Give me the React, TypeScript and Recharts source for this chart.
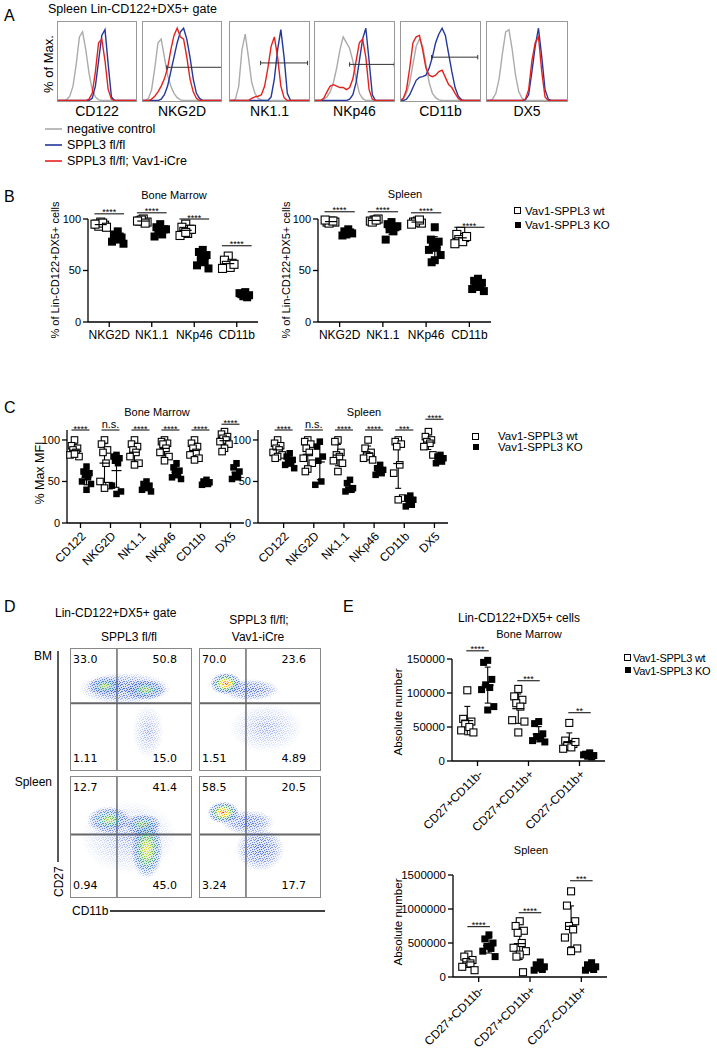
import React from 'react';
import { LineChart, Line, XAxis, YAxis, ScatterChart, Scatter, ErrorBar, ReferenceLine, ReferenceDot } from 'recharts';

const FONT = '"Liberation Sans", Arial, Helvetica, sans-serif';
const FLOW_FONT = '"DejaVu Sans", Verdana, sans-serif';
const BLUE = '#23389a';
const RED = '#e5211d';
const GRAY = '#ababab';

// ---------------- Panel A : histograms ----------------
const HIST_X = [0, 4, 8, 12, 16, 20, 24, 28, 32, 36, 40, 44, 48, 52, 56, 60, 64, 68, 72, 76, 80, 84, 88, 92, 96, 100];
const HIST_MARKERS = ['CD122', 'NKG2D', 'NK1.1', 'NKp46', 'CD11b', 'DX5'];

const CD122_GRAY = [0, 0, 0, 1, 6, 20, 50, 88, 95, 70, 38, 15, 5, 1, 0, 0, 0, 0, 0, 0, 0, 0, 0, 0, 0, 0];
const CD122_BLUE = [0, 0, 0, 0, 0, 0, 0, 0, 0, 0, 0, 3, 20, 55, 90, 98, 50, 5, 0, 0, 0, 0, 0, 0, 0, 0];
const CD122_RED = [0, 0, 0, 0, 0, 0, 0, 0, 0, 0, 2, 10, 40, 80, 85, 55, 15, 2, 0, 0, 0, 0, 0, 0, 0, 0];

const NKG2D_GRAY = [0, 0, 3, 15, 45, 80, 85, 60, 35, 20, 10, 4, 1, 0, 0, 0, 0, 0, 0, 0, 0, 0, 0, 0, 0, 0];
const NKG2D_BLUE = [0, 0, 0, 0, 0, 0, 2, 8, 20, 40, 60, 80, 95, 100, 85, 60, 30, 10, 3, 0, 0, 0, 0, 0, 0, 0];
const NKG2D_RED = [0, 0, 0, 2, 6, 12, 20, 30, 45, 70, 90, 100, 88, 85, 60, 30, 12, 3, 0, 0, 0, 0, 0, 0, 0, 0];

const NK11_GRAY = [0, 0, 2, 20, 70, 92, 60, 25, 10, 3, 1, 0, 0, 0, 0, 0, 0, 0, 0, 0, 0, 0, 0, 0, 0, 0];
const NK11_BLUE = [0, 0, 0, 0, 0, 0, 0, 0, 0, 0, 0, 0, 0, 5, 30, 70, 98, 60, 10, 0, 0, 0, 0, 0, 0, 0];
const NK11_RED = [0, 0, 0, 0, 0, 0, 0, 3, 5, 6, 8, 20, 45, 75, 88, 60, 20, 4, 0, 0, 0, 0, 0, 0, 0, 0];

const NKP46_GRAY = [0, 0, 0, 2, 5, 12, 25, 45, 70, 88, 80, 72, 55, 30, 10, 3, 0, 0, 0, 0, 0, 0, 0, 0, 0, 0];
const NKP46_BLUE = [0, 0, 0, 0, 0, 0, 0, 0, 0, 0, 0, 2, 8, 25, 55, 85, 100, 55, 8, 0, 0, 0, 0, 0, 0, 0];
const NKP46_RED = [0, 0, 0, 3, 12, 20, 22, 20, 18, 18, 15, 18, 30, 55, 80, 85, 60, 15, 2, 0, 0, 0, 0, 0, 0, 0];

const CD11B_GRAY = [0, 2, 10, 25, 50, 75, 85, 75, 50, 25, 10, 4, 1, 0, 0, 0, 0, 0, 0, 0, 0, 0, 0, 0, 0, 0];
const CD11B_BLUE = [0, 0, 2, 8, 18, 28, 32, 33, 35, 45, 60, 80, 92, 100, 90, 65, 40, 18, 6, 1, 0, 0, 0, 0, 0, 0];
const CD11B_RED = [0, 3, 15, 45, 80, 88, 90, 70, 45, 35, 33, 35, 40, 42, 32, 22, 18, 10, 3, 0, 0, 0, 0, 0, 0, 0];

const DX5_GRAY = [0, 0, 2, 10, 30, 65, 95, 98, 70, 35, 12, 3, 0, 0, 0, 0, 0, 0, 0, 0, 0, 0, 0, 0, 0, 0];
const DX5_BLUE = [0, 0, 0, 0, 0, 0, 0, 0, 0, 0, 0, 0, 1, 8, 40, 75, 100, 60, 15, 2, 0, 0, 0, 0, 0, 0];
const DX5_RED = [0, 0, 0, 0, 0, 0, 0, 0, 0, 0, 0, 0, 2, 15, 55, 80, 88, 40, 5, 0, 0, 0, 0, 0, 0, 0];

const HIST_GRAYS = [CD122_GRAY, NKG2D_GRAY, NK11_GRAY, NKP46_GRAY, CD11B_GRAY, DX5_GRAY];
const HIST_BLUES = [CD122_BLUE, NKG2D_BLUE, NK11_BLUE, NKP46_BLUE, CD11B_BLUE, DX5_BLUE];
const HIST_REDS = [CD122_RED, NKG2D_RED, NK11_RED, NKP46_RED, CD11B_RED, DX5_RED];
// gate: [from, to, level]
const HIST_GATES: (number[] | null)[] = [null, [31, 100, 46], [39, 97, 52], [44, 99, 50], [39, 96, 60], null];

const HIST_LEFT = [57, 142, 229, 314, 400, 486];
const HIST_W = [80, 80, 81, 81, 81, 82];
const HIST_TOP = 21;
const HIST_H = 81;

// ---------------- Panel B ----------------
const B_CATS = ['NKG2D', 'NK1.1', 'NKp46', 'CD11b'];
const B_BM_WT = [[97, 95, 94, 93, 96, 95, 92], [100, 98, 97, 99, 96, 98], [95, 92, 90, 88, 86, 84, 90, 87], [64, 60, 57, 55, 53, 52, 56]];
const B_BM_KO = [[88, 85, 82, 80, 83, 78, 76, 81], [95, 92, 90, 88, 85, 83, 90], [70, 68, 65, 62, 58, 55, 52, 60], [29, 27, 26, 25, 24, 28]];
const B_BM_SIG = [105, 106, 100, 74];
const B_SP_WT = [[98, 97, 97, 96, 98, 99], [99, 98, 100, 97, 99], [98, 97, 96, 97, 99, 95], [88, 85, 82, 80, 78, 76, 83]];
const B_SP_KO = [[90, 88, 86, 85, 87, 84], [97, 95, 92, 90, 88, 80, 93], [92, 80, 78, 75, 72, 70, 65, 60, 58], [42, 40, 38, 36, 34, 32, 30, 35]];
const B_SP_SIG = [107, 107, 106, 92];
const B_SIG_TXT = ['****', '****', '****', '****'];
const B_TICKS = [0, 50, 100];

// ---------------- Panel C ----------------
const C_CATS = ['CD122', 'NKG2D', 'NK1.1', 'NKp46', 'CD11b', 'DX5'];
const C_BM_WT = [[100, 93, 90, 88, 85, 82, 80, 83], [100, 95, 88, 85, 72, 50, 45, 42], [100, 95, 92, 88, 85, 80, 72, 70], [100, 98, 96, 95, 90, 85, 80, 75], [100, 96, 92, 90, 85, 82, 78, 76], [110, 107, 104, 102, 100, 98, 95, 90, 86]];
const C_BM_KO = [[68, 62, 60, 58, 55, 50, 47, 40], [82, 80, 78, 75, 72, 45, 38, 35], [50, 47, 45, 43, 42, 40, 38], [72, 67, 63, 60, 58, 55, 53], [52, 50, 49, 48, 47, 46], [72, 67, 62, 58, 55, 53]];
const C_BM_SIG = [112, 112, 112, 112, 112, 119];
const C_BM_SIG_TXT = ['****', 'n.s.', '****', '****', '****', '****'];
const C_SP_WT = [[100, 96, 93, 90, 88, 85, 82, 80, 78], [100, 98, 95, 90, 85, 78, 72, 65, 62], [100, 98, 85, 82, 80, 75, 72, 62], [100, 90, 85, 82, 80, 78, 76], [100, 98, 95, 92, 70, 60, 30, 28], [110, 104, 100, 98, 96, 92, 82]];
const C_SP_KO = [[84, 80, 76, 74, 72, 70, 66], [98, 92, 80, 75, 50, 46], [52, 48, 42, 40, 40, 38], [70, 66, 64, 62, 60, 58], [33, 30, 28, 25, 22, 20], [82, 80, 78, 76, 74, 72]];
const C_SP_SIG = [112, 112, 112, 112, 112, 125];
const C_SP_SIG_TXT = ['****', 'n.s.', '****', '****', '***', '****'];
const C_TICKS = [0, 50, 100];

// ---------------- Panel D ----------------
const D_GATE_X = 38.5;
const D_BM_GATE_Y = 55;
const D_SP_GATE_Y = 52;
const D_BM_WT = [
  { x: 45, y: 67, sx: 38, sy: 13, lvl: 0 },
  { x: 64, y: 32, sx: 13, sy: 22, lvl: 4 },
  { x: 62, y: 66, sx: 17, sy: 8, lvl: 1 },
  { x: 29, y: 69, sx: 15, sy: 8, lvl: 1 },
];
const D_BM_KO = [
  { x: 55, y: 35, sx: 30, sy: 20, lvl: 4 },
  { x: 42, y: 66, sx: 24, sy: 9, lvl: 0 },
  { x: 22, y: 71, sx: 13, sy: 9, lvl: 3 },
];
const D_SP_WT = [
  { x: 48, y: 50, sx: 40, sy: 30, lvl: 4 },
  { x: 32, y: 64, sx: 18, sy: 11, lvl: 1 },
  { x: 60, y: 60, sx: 15, sy: 9, lvl: 1 },
  { x: 63, y: 40, sx: 13, sy: 24, lvl: 2 },
];
const D_SP_KO = [
  { x: 50, y: 40, sx: 20, sy: 18, lvl: 0 },
  { x: 40, y: 62, sx: 22, sy: 10, lvl: 0 },
  { x: 20, y: 70, sx: 13, sy: 9, lvl: 3 },
];
const D_BM_WT_Q = ['33.0', '50.8', '1.11', '15.0'];
const D_BM_KO_Q = ['70.0', '23.6', '1.51', '4.89'];
const D_SP_WT_Q = ['12.7', '41.4', '0.94', '45.0'];
const D_SP_KO_Q = ['58.5', '20.5', '3.24', '17.7'];

// ---------------- Panel E ----------------
const E_CATS = ['CD27+CD11b-', 'CD27+CD11b+', 'CD27-CD11b+'];
const E_BM_WT = [[104000, 62000, 58000, 55000, 50000, 45000, 42000], [106000, 95000, 90000, 85000, 80000, 60000, 58000, 42000], [56000, 30000, 25000, 22000, 20000, 18000, 28000]];
const E_BM_KO = [[148000, 145000, 120000, 112000, 108000, 105000, 80000, 75000], [58000, 55000, 40000, 36000, 33000, 30000, 28000, 35000], [12000, 10000, 8000, 7000, 6000, 9000]];
const E_BM_SIG = [162000, 118000, 71000];
const E_BM_SIG_TXT = ['****', '***', '**'];
const E_BM_TICKS = [0, 50000, 100000, 150000];
const E_SP_WT = [[330000, 300000, 250000, 220000, 200000, 150000, 100000], [820000, 750000, 680000, 650000, 500000, 430000, 380000, 330000, 300000, 70000], [1260000, 1050000, 820000, 750000, 700000, 580000, 420000, 380000]];
const E_SP_KO = [[620000, 560000, 500000, 450000, 420000, 380000, 300000], [220000, 180000, 150000, 130000, 110000, 100000], [210000, 180000, 150000, 130000, 110000, 100000]];
const E_SP_SIG = [740000, 945000, 1415000];
const E_SP_SIG_TXT = ['****', '****', '***'];
const E_SP_TICKS = [0, 500000, 1000000, 1500000];

// ---------------- helpers ----------------
const JIT = [0, -0.1, 0.1, -0.05, 0.05, -0.15, 0.15, 0, -0.08, 0.08];
const mean = (a: number[]) => a.reduce((s, v) => s + v, 0) / a.length;
const sd = (a: number[]) => {
  const m = mean(a);
  return Math.sqrt(a.reduce((s, v) => s + (v - m) * (v - m), 0) / (a.length - 1));
};

function Hist({ idx }: { idx: number }) {
  const g = HIST_GRAYS[idx], b = HIST_BLUES[idx], r = HIST_REDS[idx];
  const data = HIST_X.map((x, i) => ({ x, g: g[i], b: b[i], r: r[i] }));
  const gate = HIST_GATES[idx];
  return (
    <div style={{ position: 'absolute', left: HIST_LEFT[idx], top: HIST_TOP }}>
      <LineChart width={HIST_W[idx]} height={HIST_H} data={data} margin={{ top: 0, right: 0, bottom: 0, left: 0 }}>
        <XAxis type="number" dataKey="x" domain={[0, 100]} hide />
        <YAxis type="number" domain={[-2, 110]} ticks={[20, 40, 60, 80, 100]} mirror width={0} tick={false} tickSize={3} axisLine={false} tickLine={{ stroke: '#888' }} />
        <Line type="linear" dataKey="g" stroke={GRAY} strokeWidth={1.4} dot={false} isAnimationActive={false} />
        <Line type="linear" dataKey="b" stroke={BLUE} strokeWidth={1.4} dot={false} isAnimationActive={false} />
        <Line type="linear" dataKey="r" stroke={RED} strokeWidth={1.4} dot={false} isAnimationActive={false} />
        {gate && <ReferenceLine segment={[{ x: gate[0], y: gate[2] }, { x: gate[1], y: gate[2] }]} stroke="#333" strokeWidth={1} ifOverflow="visible" />}
        {gate && <ReferenceLine segment={[{ x: gate[0], y: gate[2] - 3 }, { x: gate[0], y: gate[2] + 3 }]} stroke="#333" strokeWidth={1} ifOverflow="visible" />}
        {gate && <ReferenceLine segment={[{ x: gate[1], y: gate[2] - 3 }, { x: gate[1], y: gate[2] + 3 }]} stroke="#333" strokeWidth={1} ifOverflow="visible" />}
      </LineChart>
    </div>
  );
}

type DotProps = {
  left: number; top: number; pw: number; ph: number; yw: number; xh: number;
  cats: string[]; wt: number[][]; ko: number[][];
  yDomain: [number, number]; yTicks: number[]; xDomain: [number, number];
  sigY: number[]; sigTxt: string[]; sigHalf: number;
  rotate?: boolean; ms: number; ml: number; jw: number; xfs: number; yfs: number; off: number;
};
const MT = 36, MR = 10;
function DotPlot(p: DotProps) {
  const W = p.yw + p.pw + MR, H = MT + p.ph + p.xh;
  const pts = (g: number[][], o: number) => g.flatMap((vals, i) => vals.map((v, j) => ({ x: i + o + JIT[j % JIT.length] * p.jw, y: v })));
  const stats = (g: number[][], o: number) => g.map((vals, i) => ({ x: i + o, y: mean(vals), err: sd(vals) }));
  const h = p.ms / 2;
  const openSq = (s: any) => <rect x={s.cx - h} y={s.cy - h} width={p.ms} height={p.ms} fill="#fff" stroke="#000" strokeWidth={1.1} />;
  const fillSq = (s: any) => <rect x={s.cx - h} y={s.cy - h} width={p.ms} height={p.ms} fill="#000" />;
  const meanLn = (s: any) => <line x1={s.cx - p.ml} x2={s.cx + p.ml} y1={s.cy} y2={s.cy} stroke="#000" strokeWidth={1.2} />;
  const xTick = (t: any) => {
    const label = p.cats[t.payload.value];
    if (p.rotate) {
      const ax = t.x + 3, ay = t.y + 3;
      return <text x={ax} y={ay} dy="0.35em" textAnchor="end" transform={`rotate(-45 ${ax} ${ay})`} fontSize={p.xfs} fontFamily={FONT} fill="#000">{label}</text>;
    }
    return <text x={t.x} y={t.y} dy="0.71em" textAnchor="middle" fontSize={p.xfs} fontFamily={FONT} fill="#000">{label}</text>;
  };
  const sigShape = (txt: string) => (s: any) => {
    const star = txt.indexOf('*') >= 0;
    return <text x={s.cx} y={star ? s.cy + 1.5 : s.cy - 2} textAnchor="middle" fontSize={star ? 9 : 11} fontFamily={FONT} fill="#000">{txt}</text>;
  };
  return (
    <div style={{ position: 'absolute', left: p.left - p.yw, top: p.top - MT }}>
      <ScatterChart width={W} height={H} margin={{ top: MT, right: MR, bottom: 0, left: 0 }}>
        <XAxis type="number" dataKey="x" domain={p.xDomain} ticks={p.cats.map((_, i) => i)} interval={0} height={p.xh} tick={xTick} tickSize={5} tickMargin={3} tickLine={{ stroke: '#000', strokeWidth: 1.3 }} axisLine={{ stroke: '#000', strokeWidth: 1.3 }} />
        <YAxis type="number" dataKey="y" domain={p.yDomain} ticks={p.yTicks} interval={0} width={p.yw} tickSize={5} tickMargin={2} tick={{ fontSize: p.yfs, fill: '#000', fontFamily: FONT }} tickLine={{ stroke: '#000', strokeWidth: 1.3 }} axisLine={{ stroke: '#000', strokeWidth: 1.3 }} />
        <Scatter data={pts(p.wt, -p.off)} shape={openSq} isAnimationActive={false} />
        <Scatter data={pts(p.ko, p.off)} shape={fillSq} isAnimationActive={false} />
        <Scatter data={stats(p.wt, -p.off)} shape={meanLn} isAnimationActive={false}>
          <ErrorBar dataKey="err" direction="y" width={3} stroke="#000" strokeWidth={1.1} />
        </Scatter>
        <Scatter data={stats(p.ko, p.off)} shape={meanLn} isAnimationActive={false}>
          <ErrorBar dataKey="err" direction="y" width={3} stroke="#000" strokeWidth={1.1} />
        </Scatter>
        {p.sigY.map((y, i) => (
          <ReferenceLine key={'l' + i} segment={[{ x: i - p.sigHalf, y }, { x: i + p.sigHalf, y }]} stroke="#000" strokeWidth={1} ifOverflow="visible" />
        ))}
        {p.sigY.map((y, i) => (
          <ReferenceDot key={'d' + i} x={i} y={y} r={1} ifOverflow="visible" shape={sigShape(p.sigTxt[i])} />
        ))}
      </ScatterChart>
    </div>
  );
}

const PX = 1.22;
const blobShape = (s: any) => {
  const d = s.payload;
  return <ellipse cx={s.cx} cy={s.cy} rx={d.sx * PX} ry={d.sy * PX} fill={`url(#dens${d.lvl})`} mask="url(#speck)" />;
};

function FlowPlot({ left, top, blobs, gateY, h }: { left: number; top: number; blobs: any[]; gateY: number; h: number }) {
  return (
    <div style={{ position: 'absolute', left, top }}>
      <ScatterChart width={122} height={h} margin={{ top: 0, right: 0, bottom: 0, left: 0 }}>
        <XAxis type="number" dataKey="x" domain={[0, 100]} hide />
        <YAxis type="number" dataKey="y" domain={[0, 100]} hide />
        <Scatter data={blobs} shape={blobShape} isAnimationActive={false} />
        <ReferenceLine x={D_GATE_X} stroke="#222" strokeWidth={1} />
        <ReferenceLine y={gateY} stroke="#666" strokeWidth={2} />
      </ScatterChart>
    </div>
  );
}

const SPECK_DOTS = [[0, 0], [3, 1], [5, 0], [1, 2], [6, 3], [4, 3], [2, 4], [0, 5], [5, 5], [3, 6], [1, 6], [6, 1], [2, 1], [4, 5]];

const Defs = () => (
  <svg width={0} height={0} style={{ position: 'absolute', left: 0, top: 0 }}>
    <defs>
      <radialGradient id="dens0">
        <stop offset="0%" stopColor="#3a5fd0" stopOpacity={0.95} />
        <stop offset="60%" stopColor="#3a5fd0" stopOpacity={0.6} />
        <stop offset="100%" stopColor="#3a5fd0" stopOpacity={0} />
      </radialGradient>
      <radialGradient id="dens1">
        <stop offset="0%" stopColor="#c8d830" stopOpacity={1} />
        <stop offset="20%" stopColor="#6cbf48" stopOpacity={1} />
        <stop offset="45%" stopColor="#2f8fc8" stopOpacity={0.9} />
        <stop offset="75%" stopColor="#3355cc" stopOpacity={0.6} />
        <stop offset="100%" stopColor="#3355cc" stopOpacity={0} />
      </radialGradient>
      <radialGradient id="dens2">
        <stop offset="0%" stopColor="#ffe21f" stopOpacity={1} />
        <stop offset="22%" stopColor="#b5da30" stopOpacity={1} />
        <stop offset="45%" stopColor="#3fae5a" stopOpacity={0.95} />
        <stop offset="72%" stopColor="#2f6ed0" stopOpacity={0.75} />
        <stop offset="100%" stopColor="#3355cc" stopOpacity={0} />
      </radialGradient>
      <radialGradient id="dens3">
        <stop offset="0%" stopColor="#e0301a" stopOpacity={1} />
        <stop offset="16%" stopColor="#ff9a10" stopOpacity={1} />
        <stop offset="32%" stopColor="#ffe020" stopOpacity={1} />
        <stop offset="52%" stopColor="#3fae5a" stopOpacity={0.95} />
        <stop offset="78%" stopColor="#2f60d0" stopOpacity={0.75} />
        <stop offset="100%" stopColor="#3355cc" stopOpacity={0} />
      </radialGradient>
      <radialGradient id="dens4">
        <stop offset="0%" stopColor="#4a6ad0" stopOpacity={0.6} />
        <stop offset="100%" stopColor="#4a6ad0" stopOpacity={0} />
      </radialGradient>
      <pattern id="dotpat" width={7} height={7} patternUnits="userSpaceOnUse">
        <rect width={7} height={7} fill="#fff" fillOpacity={0.18} />
        {SPECK_DOTS.map(([x, y], i) => <rect key={i} x={x} y={y} width={1} height={1} fill="#fff" />)}
      </pattern>
      <mask id="speck" maskUnits="userSpaceOnUse" x={-100} y={-100} width={2000} height={2000}>
        <rect x={-100} y={-100} width={2000} height={2000} fill="url(#dotpat)" />
      </mask>
    </defs>
  </svg>
);

const T = ({ x, y, fs = 11, a = 'start', r, ff = FONT, ls, children }: any) => (
  <text x={x} y={y} fontSize={fs} textAnchor={a} fontFamily={ff} fill="#000" letterSpacing={ls} transform={r ? `rotate(${r} ${x} ${y})` : undefined}>{children}</text>
);

function QuadLabels({ left, top, h, q }: { left: number; top: number; h: number; q: string[] }) {
  return (
    <g>
      <T x={left + 3} y={top + 15} fs={11} ff={FLOW_FONT}>{q[0]}</T>
      <T x={left + 107} y={top + 15} fs={11} ff={FLOW_FONT} a="end">{q[1]}</T>
      <T x={left + 3} y={top + h - 9} fs={11} ff={FLOW_FONT}>{q[2]}</T>
      <T x={left + 107} y={top + h - 9} fs={11} ff={FLOW_FONT} a="end">{q[3]}</T>
    </g>
  );
}

function Overlay() {
  return (
    <svg width={717} height={1050} style={{ position: 'absolute', left: 0, top: 0, pointerEvents: 'none' }}>
      {/* Panel A */}
      <T x={4} y={21} fs={16}>A</T>
      <T x={48} y={13} fs={12.5}>Spleen Lin-CD122+DX5+ gate</T>
      <T x={53} y={64} fs={13} a="middle" r={-90}>% of Max.</T>
      {HIST_LEFT.map((l, i) => (
        <rect key={'hb' + i} x={l + 0.5} y={HIST_TOP + 0.5} width={HIST_W[i] - 1} height={HIST_H - 1} fill="none" stroke="#999" strokeWidth={1} />
      ))}
      {HIST_LEFT.map((l, i) => (
        <T key={'hl' + i} x={l + HIST_W[i] / 2} y={116} fs={14} a="middle">{HIST_MARKERS[i]}</T>
      ))}
      <line x1={45} x2={62} y1={129} y2={129} stroke={GRAY} strokeWidth={1.6} />
      <line x1={45} x2={62} y1={145} y2={145} stroke={BLUE} strokeWidth={1.6} />
      <line x1={45} x2={62} y1={161} y2={161} stroke={RED} strokeWidth={1.6} />
      <T x={67} y={133} fs={12.5}>negative control</T>
      <T x={67} y={149} fs={12.5}>SPPL3 fl/fl</T>
      <T x={67} y={165} fs={12.5}>SPPL3 fl/fl; Vav1-iCre</T>

      {/* Panel B */}
      <T x={4} y={202} fs={16}>B</T>
      <T x={174} y={199} fs={11} a="middle">Bone Marrow</T>
      <T x={405} y={198} fs={11} a="middle">Spleen</T>
      <T x={59} y={270} fs={11} a="middle" r={-90}>% of Lin-CD122+DX5+ cells</T>
      <T x={290} y={270} fs={11} a="middle" r={-90}>% of Lin-CD122+DX5+ cells</T>
      <rect x={514.5} y={207.5} width={6} height={6} fill="#fff" stroke="#000" strokeWidth={1} />
      <rect x={515} y={222} width={6} height={6} fill="#000" />
      <T x={525} y={215} fs={11.5}>Vav1-SPPL3 wt</T>
      <T x={525} y={229} fs={11.5}>Vav1-SPPL3 KO</T>

      {/* Panel C */}
      <T x={4} y={413} fs={16}>C</T>
      <T x={157} y={416} fs={11} a="middle">Bone Marrow</T>
      <T x={364} y={416} fs={11} a="middle">Spleen</T>
      <T x={44} y={473} fs={12.5} a="middle" r={-90}>% Max MFI</T>
      <rect x={472.5} y={433.5} width={6} height={6} fill="#fff" stroke="#000" strokeWidth={1} />
      <rect x={473} y={444} width={6} height={6} fill="#000" />
      <T x={498} y={440} fs={11.5}>Vav1-SPPL3 wt</T>
      <T x={498} y={451} fs={11.5}>Vav1-SPPL3 KO</T>

      {/* Panel D */}
      <T x={4} y={612} fs={16}>D</T>
      <T x={55} y={617} fs={12}>Lin-CD122+DX5+ gate</T>
      <T x={129} y={641} fs={12} a="middle">SPPL3 fl/fl</T>
      <T x={259} y={624} fs={12} a="middle">SPPL3 fl/fl;</T>
      <T x={258} y={641} fs={12} a="middle">Vav1-iCre</T>
      <T x={52} y={660} fs={12} a="end">BM</T>
      <T x={52} y={786} fs={12} a="end">Spleen</T>
      <line x1={58} x2={58} y1={651} y2={862} stroke="#000" strokeWidth={1.3} />
      <T x={63} y={897} fs={12} r={-90}>CD27</T>
      <T x={72} y={915} fs={12}>CD11b</T>
      <line x1={110} x2={325} y1={911} y2={911} stroke="#000" strokeWidth={1.3} />
      <rect x={70.5} y={648.5} width={121} height={122} fill="none" stroke="#888" strokeWidth={1} />
      <rect x={199.5} y={648.5} width={121} height={122} fill="none" stroke="#888" strokeWidth={1} />
      <rect x={70.5} y={776.5} width={121} height={121} fill="none" stroke="#888" strokeWidth={1} />
      <rect x={199.5} y={776.5} width={121} height={121} fill="none" stroke="#888" strokeWidth={1} />
      <QuadLabels left={70} top={648} h={123} q={D_BM_WT_Q} />
      <QuadLabels left={199} top={648} h={123} q={D_BM_KO_Q} />
      <QuadLabels left={70} top={776} h={122} q={D_SP_WT_Q} />
      <QuadLabels left={199} top={776} h={122} q={D_SP_KO_Q} />

      {/* Panel E */}
      <T x={343} y={612} fs={16}>E</T>
      <T x={519} y={622} fs={12} a="middle">Lin-CD122+DX5+ cells</T>
      <T x={529} y={638} fs={11} a="middle">Bone Marrow</T>
      <T x={402} y={712} fs={11.5} a="middle" r={-90}>Absolute number</T>
      <T x={531} y={854} fs={11} a="middle">Spleen</T>
      <T x={402} y={922} fs={11.5} a="middle" r={-90}>Absolute number</T>
      <rect x={624.5} y={654.5} width={6} height={6} fill="#fff" stroke="#000" strokeWidth={1} />
      <rect x={625} y={667} width={6} height={6} fill="#000" />
      <T x={633} y={662} fs={11} ls={-0.3}>Vav1-SPPL3 wt</T>
      <T x={633} y={675} fs={11} ls={-0.3}>Vav1-SPPL3 KO</T>
    </svg>
  );
}

export default function App() {
  return (
    <div style={{ position: 'absolute', left: 0, top: 0, width: 717, height: 1050, background: '#fff', overflow: 'hidden', fontFamily: FONT }}>
      <Defs />
      {HIST_MARKERS.map((_, i) => <Hist key={i} idx={i} />)}

      <DotPlot left={88} top={219} pw={170} ph={103} yw={40} xh={22} cats={B_CATS} wt={B_BM_WT} ko={B_BM_KO}
        yDomain={[0, 100]} yTicks={B_TICKS} xDomain={[-0.5, 3.5]} sigY={B_BM_SIG} sigTxt={B_SIG_TXT} sigHalf={0.35}
        ms={8} ml={6} jw={0.9} xfs={12} yfs={11} off={0.2} />
      <DotPlot left={318} top={219} pw={173} ph={103} yw={40} xh={22} cats={B_CATS} wt={B_SP_WT} ko={B_SP_KO}
        yDomain={[0, 100]} yTicks={B_TICKS} xDomain={[-0.5, 3.5]} sigY={B_SP_SIG} sigTxt={B_SIG_TXT} sigHalf={0.35}
        ms={8} ml={6} jw={0.9} xfs={12} yfs={11} off={0.2} />

      <DotPlot left={67} top={430} pw={177} ph={93} yw={40} xh={50} cats={C_CATS} wt={C_BM_WT} ko={C_BM_KO}
        yDomain={[0, 112]} yTicks={C_TICKS} xDomain={[-0.45, 5.45]} sigY={C_BM_SIG} sigTxt={C_BM_SIG_TXT} sigHalf={0.3}
        rotate ms={6.5} ml={5} jw={1} xfs={12} yfs={11} off={0.2} />
      <DotPlot left={258} top={430} pw={190} ph={93} yw={40} xh={50} cats={C_CATS} wt={C_SP_WT} ko={C_SP_KO}
        yDomain={[0, 112]} yTicks={C_TICKS} xDomain={[-0.85, 5.45]} sigY={C_SP_SIG} sigTxt={C_SP_SIG_TXT} sigHalf={0.3}
        rotate ms={6.5} ml={5} jw={1} xfs={12} yfs={11} off={0.2} />

      <FlowPlot left={70} top={648} h={123} blobs={D_BM_WT} gateY={D_BM_GATE_Y} />
      <FlowPlot left={199} top={648} h={123} blobs={D_BM_KO} gateY={D_BM_GATE_Y} />
      <FlowPlot left={70} top={776} h={122} blobs={D_SP_WT} gateY={D_SP_GATE_Y} />
      <FlowPlot left={199} top={776} h={122} blobs={D_SP_KO} gateY={D_SP_GATE_Y} />

      <DotPlot left={452} top={659} pw={153} ph={102} yw={56} xh={75} cats={E_CATS} wt={E_BM_WT} ko={E_BM_KO}
        yDomain={[0, 150000]} yTicks={E_BM_TICKS} xDomain={[-0.5, 2.5]} sigY={E_BM_SIG} sigTxt={E_BM_SIG_TXT} sigHalf={0.22}
        rotate ms={7} ml={6} jw={0.8} xfs={12} yfs={11.5} off={0.2} />
      <DotPlot left={453} top={875} pw={154} ph={102} yw={60} xh={75} cats={E_CATS} wt={E_SP_WT} ko={E_SP_KO}
        yDomain={[0, 1500000]} yTicks={E_SP_TICKS} xDomain={[-0.5, 2.5]} sigY={E_SP_SIG} sigTxt={E_SP_SIG_TXT} sigHalf={0.22}
        rotate ms={7} ml={6} jw={0.8} xfs={12} yfs={11.5} off={0.2} />

      <Overlay />
    </div>
  );
}
